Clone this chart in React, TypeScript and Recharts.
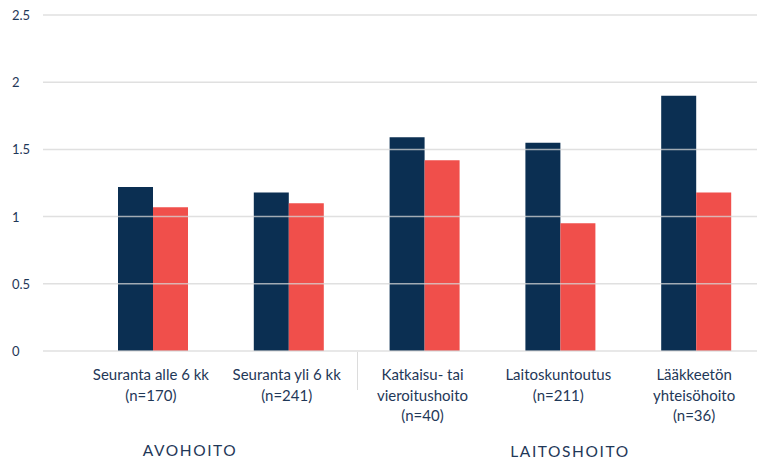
import React from "react";
import { BarChart, Bar, XAxis, YAxis, ReferenceLine } from "recharts";

// ---------------------------------------------------------------------------
// Data
// ---------------------------------------------------------------------------

const categories = [
  ["Seuranta alle 6 kk", "(n=170)"],
  ["Seuranta yli 6 kk", "(n=241)"],
  ["Katkaisu- tai", "vieroitushoito", "(n=40)"],
  ["Laitoskuntoutus", "(n=211)"],
  ["Lääkkeetön", "yhteisöhoito", "(n=36)"],
];
const seriesA = [1.22, 1.18, 1.59, 1.55, 1.9];
const seriesB = [1.07, 1.1, 1.42, 0.95, 1.18];
const yTicks = [0, 0.5, 1, 1.5, 2, 2.5];
const groupLabels = ["AVOHOITO", "LAITOSHOITO"];

const NAVY = "#0b2f52";
const RED = "#f04f4b";
const TEXT = "#1f3858";
const GRID = "#d6d6d6";
const FONT = "Lato, 'Open Sans', sans-serif";

const data = categories.map((lines, i) => ({
  key: String(i),
  a: seriesA[i],
  b: seriesB[i],
}));

// ---------------------------------------------------------------------------
// Ticks
// ---------------------------------------------------------------------------

function YTick(props: any) {
  const { y, payload } = props;
  return (
    <text x={12} y={y} dy={5} textAnchor="start" fill={TEXT} fontSize={13} fontFamily={FONT}>
      {payload.value}
    </text>
  );
}

function XTick(props: any) {
  const { x, payload } = props;
  const lines = categories[Number(payload.value)] || [];
  return (
    <g>
      {lines.map((line, i) => (
        <text
          key={i}
          x={x - 2}
          y={380 + i * 20.5}
          textAnchor="middle"
          fill={TEXT}
          fontSize={15}
          fontFamily={FONT}
        >
          {line}
        </text>
      ))}
    </g>
  );
}

// ---------------------------------------------------------------------------
// Component
// ---------------------------------------------------------------------------

const groupStyle: React.CSSProperties = {
  position: "absolute",
  transform: "translateX(-50%)",
  color: TEXT,
  fontSize: 15.5,
  letterSpacing: 1.6,
  whiteSpace: "nowrap",
  lineHeight: "16px",
};

export default function App() {
  return (
    <div
      style={{
        position: "absolute",
        left: 0,
        top: 0,
        width: 757,
        height: 460,
        overflow: "hidden",
        background: "#fff",
        fontFamily: FONT,
      }}
    >
      <BarChart
        width={764}
        height={460}
        data={data}
        margin={{ top: 15, right: 0, left: 0, bottom: 0 }}
        barGap={0}
      >
        <XAxis
          dataKey="key"
          height={109}
          axisLine={false}
          tickLine={false}
          padding={{ left: 42, right: 0 }}
          tick={<XTick />}
          interval={0}
        />
        <YAxis
          width={43}
          domain={[0, 2.5]}
          ticks={yTicks}
          axisLine={false}
          tickLine={false}
          tick={<YTick />}
        />
        <Bar dataKey="a" fill={NAVY} barSize={35} isAnimationActive={false} />
        <Bar dataKey="b" fill={RED} barSize={35} isAnimationActive={false} />
        {yTicks.map((t) => (
          <ReferenceLine key={t} y={t} stroke={GRID} strokeOpacity={0.75} strokeWidth={1.5} />
        ))}
      </BarChart>
      <div
        style={{
          position: "absolute",
          left: 357,
          top: 352,
          width: 1,
          height: 38,
          background: "#dcdcdc",
        }}
      />
      <div style={{ ...groupStyle, left: 190, top: 442 }}>{groupLabels[0]}</div>
      <div style={{ ...groupStyle, left: 570, top: 443 }}>{groupLabels[1]}</div>
    </div>
  );
}
